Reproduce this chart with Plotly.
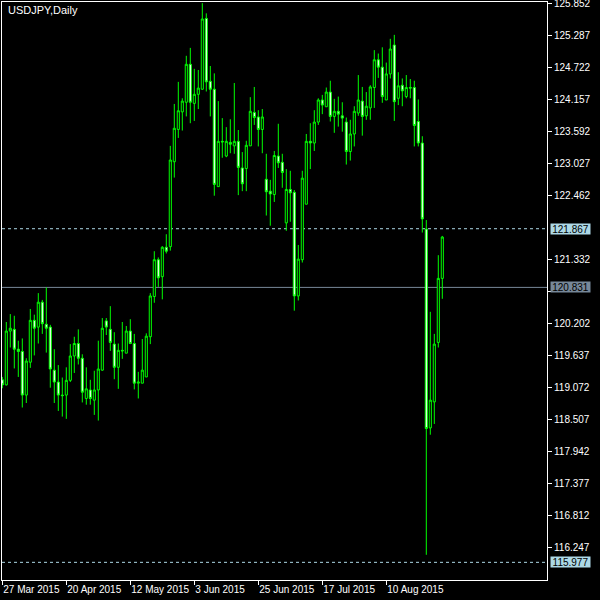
import pandas as pd
import plotly.graph_objects as go

# ---- data (USDJPY daily) ----
dates = [d.strftime("%Y-%m-%d") for d in pd.bdate_range("2015-03-27", periods=111)]

opens = [119.20, 119.11, 120.06, 120.09, 119.74, 119.70, 118.93, 119.51, 120.25, 120.13,
         120.57, 120.18, 120.13, 119.37, 119.16, 118.93, 118.93, 119.19, 119.62, 119.84,
         119.58, 118.87, 119.02, 118.84, 119.02, 119.37, 120.24, 120.09, 119.83, 119.42,
         119.72, 119.67, 120.06, 119.84, 119.14, 119.14, 119.25, 119.96, 120.67, 121.32,
         121.02, 121.54, 121.55, 123.05, 123.62, 123.93, 124.10, 124.77, 124.08, 124.24,
         124.33, 125.58, 124.47, 124.33, 122.61, 123.41, 123.15, 123.39, 123.33, 123.41,
         122.94, 122.93, 123.33, 123.92, 123.84, 123.62, 122.74, 122.53, 122.47, 123.15,
         123.04, 121.97, 122.56, 122.51, 120.68, 121.32, 122.30, 123.41, 123.38, 123.75,
         124.14, 124.02, 124.28, 123.85, 123.94, 123.86, 123.75, 123.23, 123.54, 123.91,
         124.12, 123.86, 124.00, 124.36, 124.85, 124.72, 124.14, 124.60, 125.11, 124.17,
         124.40, 124.20, 124.36, 124.36, 123.76, 123.38, 121.86, 118.35, 118.81, 119.86,
         120.99]
highs = [119.25, 120.22, 120.36, 120.33, 119.89, 119.93, 119.58, 120.45, 120.35, 120.73,
         120.61, 120.83, 120.17, 119.74, 119.46, 119.24, 119.42, 119.83, 119.96, 120.09,
         119.65, 119.42, 119.20, 119.36, 119.89, 120.29, 120.29, 120.50, 120.04, 119.84,
         120.22, 120.15, 120.27, 120.01, 119.34, 119.92, 120.02, 120.73, 121.47, 121.36,
         121.56, 121.77, 123.33, 124.07, 124.46, 124.17, 124.92, 125.06, 124.69, 124.67,
         125.85, 125.67, 124.74, 124.61, 124.12, 123.82, 123.66, 123.80, 124.44, 123.61,
         123.22, 123.42, 124.19, 124.37, 123.96, 123.98, 123.19, 122.73, 123.24, 123.72,
         123.19, 122.92, 122.89, 122.55, 121.58, 122.89, 123.54, 123.73, 123.96, 124.17,
         124.23, 124.36, 124.48, 124.16, 124.20, 124.10, 123.83, 123.79, 124.03, 124.58,
         124.37, 124.28, 124.40, 125.02, 124.96, 125.07, 124.80, 125.22, 125.29, 124.63,
         124.52, 124.58, 124.51, 124.48, 124.15, 123.50, 122.02, 120.40, 120.01, 121.40,
         121.74]
lows = [119.05, 119.10, 119.77, 119.40, 119.25, 118.71, 118.79, 119.41, 119.63, 119.84,
        120.01, 119.68, 119.06, 118.79, 118.65, 118.55, 118.51, 119.16, 119.32, 119.47,
        118.80, 118.76, 118.76, 118.58, 118.48, 119.36, 119.99, 119.71, 119.21, 119.04,
        119.57, 119.67, 119.83, 119.03, 118.87, 119.14, 119.25, 119.83, 120.56, 120.84,
        120.62, 121.43, 121.48, 122.77, 123.47, 123.60, 123.85, 123.73, 123.77, 123.98,
        124.32, 124.29, 123.85, 122.45, 122.61, 123.12, 123.13, 123.20, 123.19, 122.46,
        122.53, 122.53, 123.33, 123.70, 123.32, 123.20, 122.10, 121.92, 122.34, 122.94,
        122.59, 121.83, 121.99, 120.42, 120.60, 121.27, 122.30, 122.92, 123.24, 123.70,
        123.89, 124.02, 123.76, 123.56, 123.67, 123.58, 123.00, 123.07, 123.32, 123.86,
        123.51, 123.79, 123.79, 124.00, 124.53, 124.09, 124.14, 124.52, 123.77, 124.05,
        124.03, 124.17, 124.17, 123.32, 123.32, 121.80, 116.11, 118.23, 118.42, 119.77,
        120.63]
closes = [119.11, 120.06, 120.11, 119.74, 119.70, 118.93, 119.53, 120.25, 120.11, 120.57,
          120.19, 120.11, 119.39, 119.16, 118.93, 118.92, 119.19, 119.62, 119.84, 119.58,
          118.98, 119.04, 118.87, 119.02, 119.39, 120.11, 120.13, 119.86, 119.42, 119.72,
          119.71, 120.06, 119.84, 119.14, 119.16, 119.37, 119.97, 120.68, 121.32, 121.00,
          121.54, 121.47, 123.08, 123.64, 123.95, 124.12, 124.77, 124.10, 124.24, 124.35,
          125.57, 124.46, 124.33, 122.65, 123.41, 123.40, 123.41, 123.36, 123.41, 122.95,
          122.66, 123.34, 123.94, 123.83, 123.62, 123.84, 122.52, 122.48, 123.16, 123.03,
          122.86, 122.56, 122.50, 120.68, 121.33, 122.76, 123.41, 123.38, 123.75, 124.14,
          124.05, 124.28, 123.85, 123.94, 123.89, 123.82, 123.23, 123.54, 123.94, 124.14,
          123.85, 124.03, 124.37, 124.85, 124.72, 124.20, 124.60, 125.04, 124.11, 124.39,
          124.30, 124.36, 124.35, 123.69, 123.38, 122.04, 118.34, 118.84, 119.83, 120.99,
          121.72]

price_ticks = [125.852, 125.287, 124.722, 124.157, 123.592, 123.027, 122.462, 121.332,
               120.767, 120.202, 119.637, 119.072, 118.507, 117.942, 117.377, 116.812, 116.247]
hidden_tick = 120.767  # covered by the bid-price label in the reference
date_tick_vals = ["2015-03-27", "2015-04-20", "2015-05-12", "2015-06-03",
                  "2015-06-25", "2015-07-17", "2015-08-10"]
date_tick_text = ["27 Mar 2015", "20 Apr 2015", "12 May 2015", "3 Jun 2015",
                  "25 Jun 2015", "17 Jul 2015", "10 Aug 2015"]
title_text = "USDJPY,Daily"
level_high = 121.867
level_low = 115.977
bid_price = 120.831

FONT = "Liberation Sans, Arial, sans-serif"
LIME = "#00FF00"
LBLUE = "#ADD8E6"
SLATE = "#778899"

fig = go.Figure()
fig.add_trace(go.Candlestick(
    x=dates, open=opens, high=highs, low=lows, close=closes,
    increasing=dict(line=dict(color=LIME, width=1), fillcolor="#000000"),
    decreasing=dict(line=dict(color=LIME, width=1), fillcolor="#FFFFFF"),
    whiskerwidth=0, hoverinfo="skip", showlegend=False,
))

for lvl in (level_high, level_low):
    fig.add_shape(type="line", xref="paper", x0=0, x1=1, yref="y", y0=lvl, y1=lvl,
                  line=dict(color=LBLUE, width=1, dash="3px,3px"), layer="below")
fig.add_shape(type="line", xref="paper", x0=0, x1=1, yref="y", y0=bid_price, y1=bid_price,
              line=dict(color=SLATE, width=1), layer="below")

for lvl, bg in ((level_high, LBLUE), (bid_price, SLATE), (level_low, LBLUE)):
    fig.add_annotation(xref="paper", x=1, xanchor="left", xshift=3,
                       yref="y", y=lvl, yanchor="middle", text=f"{lvl:.3f}",
                       showarrow=False, bgcolor=bg, width=39, height=10, borderpad=0,
                       font=dict(family=FONT, size=10, color="#000000"))

fig.add_annotation(xref="paper", x=0, xanchor="left", xshift=4,
                   yref="paper", y=1, yanchor="middle", yshift=-7.5,
                   text=title_text, showarrow=False,
                   font=dict(family=FONT, size=11, color="#FFFFFF"))

fig.update_layout(
    width=600, height=600,
    margin=dict(l=2, r=53, t=2, b=20, autoexpand=False),
    paper_bgcolor="#000000", plot_bgcolor="#000000",
    boxgap=0.25,
    xaxis=dict(type="category", range=[-0.075, 136.175], rangeslider=dict(visible=False),
               showgrid=False, zeroline=False, showline=True, linecolor="#FFFFFF",
               linewidth=1, mirror=True, ticks="outside", ticklen=4, tickcolor="#FFFFFF",
               tickvals=date_tick_vals, ticktext=date_tick_text, tickangle=0,
               ticklabelposition="outside right",
               tickfont=dict(family=FONT, size=10, color="#FFFFFF")),
    yaxis=dict(side="right", range=[115.665, 125.870], showgrid=False, zeroline=False,
               showline=True, linecolor="#FFFFFF", linewidth=1, mirror=True,
               ticks="outside", ticklen=4, tickcolor="#FFFFFF",
               ticklabeloverflow="allow",
               tickvals=price_ticks,
               ticktext=["" if v == hidden_tick else f"{v:.3f}" for v in price_ticks],
               tickfont=dict(family=FONT, size=10, color="#FFFFFF")),
)

fig.write_html("out.html", config={"displayModeBar": False},
               post_script="document.body.style.margin='0px';document.body.style.overflow='hidden';")
